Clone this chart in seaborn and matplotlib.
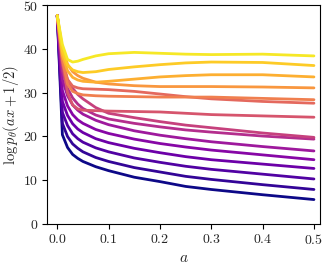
import numpy as np
import pandas as pd
import matplotlib
matplotlib.use("Agg")
import matplotlib.pyplot as plt
import seaborn as sns

# values of a where each curve is sampled
a_vals = [0.0, 0.01, 0.02, 0.03, 0.04, 0.05, 0.075, 0.1, 0.15, 0.2, 0.25, 0.3, 0.4, 0.5]

# one curve per model, ordered from lowest (dark) to highest (yellow)
curve_00 = [47.6, 20.4, 17.5, 15.9, 15.0, 14.3, 13.1, 12.2, 10.7, 9.7, 8.6, 7.9, 6.7, 5.6]
curve_01 = [47.6, 23.0, 20.0, 18.3, 17.3, 16.5, 15.2, 14.3, 12.9, 11.9, 10.9, 10.2, 9.0, 7.9]
curve_02 = [47.6, 25.5, 22.5, 20.6, 19.5, 18.7, 17.4, 16.5, 15.1, 14.1, 13.2, 12.5, 11.4, 10.3]
curve_03 = [47.6, 28.0, 24.8, 22.9, 21.7, 20.9, 19.5, 18.6, 17.3, 16.3, 15.4, 14.7, 13.7, 12.7]
curve_04 = [47.6, 30.5, 27.0, 25.0, 23.8, 23.0, 21.6, 20.7, 19.4, 18.4, 17.6, 16.9, 15.8, 14.7]
curve_05 = [47.6, 33.0, 29.3, 27.2, 26.0, 25.1, 23.7, 22.7, 21.3, 20.3, 19.5, 18.8, 17.7, 16.7]
curve_06 = [47.6, 35.0, 31.0, 28.8, 27.4, 26.4, 24.9, 24.0, 23.0, 22.2, 21.5, 21.0, 20.1, 19.4]
curve_07 = [47.6, 36.5, 33.0, 31.0, 29.6, 28.6, 26.6, 25.3, 24.3, 23.4, 22.6, 22.0, 20.8, 19.8]
curve_08 = [47.6, 37.0, 30.0, 27.2, 26.3, 26.0, 25.9, 25.8, 25.7, 25.6, 25.3, 25.0, 24.7, 24.4]
curve_09 = [47.6, 38.0, 33.0, 31.5, 31.1, 30.9, 30.8, 30.7, 30.3, 29.7, 29.1, 28.6, 28.0, 27.6]
curve_10 = [47.6, 37.5, 32.0, 30.3, 29.8, 29.5, 29.3, 29.2, 29.1, 29.0, 29.0, 29.0, 28.7, 28.4]
curve_11 = [47.6, 40.0, 36.5, 34.8, 33.9, 33.3, 32.4, 32.0, 31.6, 31.4, 31.4, 31.4, 31.3, 31.1]
curve_12 = [47.6, 38.5, 35.0, 33.5, 32.9, 32.6, 32.4, 32.6, 33.1, 33.6, 33.9, 34.1, 34.1, 33.6]
curve_13 = [47.6, 39.5, 36.3, 35.2, 34.8, 34.6, 34.8, 35.3, 35.9, 36.4, 36.8, 37.0, 36.9, 36.2]
curve_14 = [47.6, 41.0, 37.6, 37.0, 37.2, 37.6, 38.4, 38.9, 39.2, 39.0, 38.8, 38.7, 38.8, 38.4]

curves = [curve_00, curve_01, curve_02, curve_03, curve_04, curve_05, curve_06, curve_07,
          curve_08, curve_09, curve_10, curve_11, curve_12, curve_13, curve_14]

rows = []
for k, c in enumerate(curves):
    for a, v in zip(a_vals, c):
        rows.append({"a": a, "logp": v, "curve": k})
df = pd.DataFrame(rows)

sns.set_style("ticks")
plt.rcParams["font.family"] = "serif"
plt.rcParams["font.serif"] = ["cmr10"]
plt.rcParams["mathtext.fontset"] = "cm"
plt.rcParams["axes.formatter.use_mathtext"] = True

colors = [plt.cm.plasma(t) for t in np.linspace(0, 0.96, len(curves))]

fig = plt.figure(figsize=(3.24, 2.69), dpi=100)
ax = fig.add_axes([0.145, 0.167, 0.843, 0.814])
sns.lineplot(data=df, x="a", y="logp", hue="curve", palette=colors,
             linewidth=2, legend=False, ax=ax)

ax.set_xlim(-0.02, 0.512)
ax.set_ylim(0, 50)
ax.set_xticks([0.0, 0.1, 0.2, 0.3, 0.4, 0.5])
ax.set_yticks([0, 10, 20, 30, 40, 50])
ax.set_xlabel(r"$a$", fontsize=11, labelpad=3)
ax.set_ylabel(r"$\log p_\theta(ax+1/2)$", fontsize=10.5, labelpad=1)
ax.tick_params(labelsize=10, length=3.5, width=0.8, color="black", pad=3)
for s in ax.spines.values():
    s.set_visible(True)
    s.set_color("black")
    s.set_linewidth(0.8)

fig.savefig("out.png", dpi=100)
